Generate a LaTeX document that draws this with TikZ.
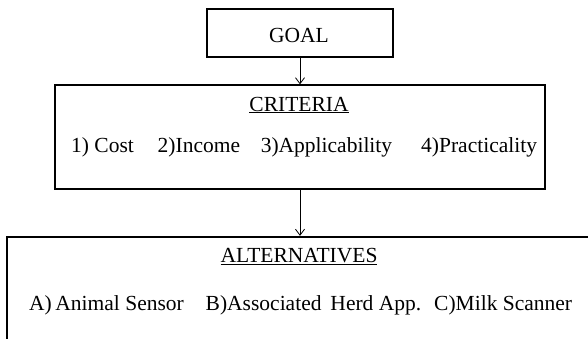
\documentclass[tikz,border=0pt]{standalone}
\usepackage{fontspec}
\setmainfont{Liberation Serif}
\usetikzlibrary{arrows.meta}
\begin{document}
\begin{tikzpicture}[x=1pt,y=-1pt,
  box/.style={draw=black,line width=1.7pt,inner sep=0pt,fill=none},
  lbl/.style={inner sep=0pt,font=\fontsize{21.5}{24}\selectfont,text=black},
  conn/.style={draw=black,line width=0.8pt,-{Straight Barb[length=6pt,width=9pt]}}]
\useasboundingbox (0,0) rectangle (588,338);
\clip (0,0) rectangle (588,338);
\node[box,minimum width=186pt,minimum height=48pt] (goal) at (300,33) {};
\node[box,minimum width=490pt,minimum height=104pt] (crit) at (300,137.2) {};
\node[box,minimum width=586.5pt,minimum height=120pt] (alt) at (300,296.7) {};
\node[lbl,anchor=base] (tgoal) at (299,42.3) {GOAL};
\node[lbl,anchor=base] (tcrit) at (299,111) {\underline{CRITERIA}};
\node[lbl,anchor=base west] (c1) at (71,152.7) {1) Cost};
\node[lbl,anchor=base west] (c2) at (157.5,152.7) {2)Income};
\node[lbl,anchor=base west] (c3) at (260.6,152.7) {3)Applicability};
\node[lbl,anchor=base west] (c4) at (421,152.7) {4)Practicality};
\node[lbl,anchor=base] (talt) at (299,262.3) {\underline{ALTERNATIVES}};
\node[lbl,anchor=base west] (a1) at (29,310) {A)\,Animal Sensor};
\node[lbl,anchor=base west] (a2) at (205.5,310) {B)Associated\, Herd App.};
\node[lbl,anchor=base west] (a3) at (434,310) {C)Milk Scanner};
\draw[conn] (goal.south) -- (crit.north);
\draw[conn] (crit.south) -- (alt.north);
\end{tikzpicture}
\end{document}
